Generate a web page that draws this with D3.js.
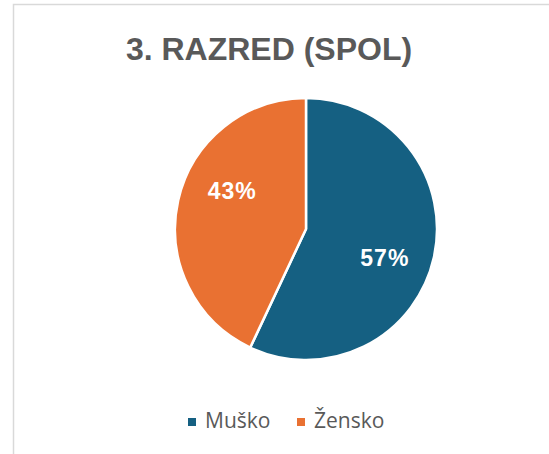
<!DOCTYPE html>
<html>
<head>
<meta charset="utf-8">
<title>3. RAZRED (SPOL)</title>
<script src="https://d3js.org/d3.v7.min.js"></script>
<style>
  body { margin: 0; background: #fff; }
  svg { display: block; }
</style>
</head>
<body>
<div id="chart"></div>
<script>
// chart data
const categories = ["Muško", "Žensko"];
const values = [57, 43];
const colors = ["#156082", "#E97132"];
const title = "3. RAZRED (SPOL)";

const width = 549, height = 454;
const cx = 306, cy = 229, radius = 131;

const svg = d3.select("#chart")
    .append("svg")
    .attr("width", width)
    .attr("height", height);

// chart area border (right/bottom edges fall outside the view)
svg.append("rect")
    .attr("x", 13.5).attr("y", 4.5)
    .attr("width", 600).attr("height", 500)
    .attr("fill", "#fff")
    .attr("stroke", "#d9d9d9")
    .attr("stroke-width", 1.5);

svg.append("text")
    .attr("x", 269).attr("y", 60)
    .attr("text-anchor", "middle")
    .style("font-family", "'Liberation Sans', Arial, sans-serif")
    .style("font-weight", "bold")
    .style("font-size", "32px")
    .style("fill", "#595959")
    .text(title);

const pie = d3.pie().sort(null).value(d => d);
const arcs = pie(values);
const arc = d3.arc().innerRadius(0).outerRadius(radius);
const labelArc = d3.arc().innerRadius(radius * 0.64).outerRadius(radius * 0.64);

const g = svg.append("g").attr("transform", `translate(${cx},${cy})`);

g.selectAll("path")
    .data(arcs)
    .join("path")
    .attr("d", arc)
    .attr("fill", (d, i) => colors[i])
    .attr("stroke", "#fff")
    .attr("stroke-width", 2.5)
    .attr("stroke-linejoin", "round");

// excel "best fit" nudges the labels off the centroid a bit
const labelShift = [[-3, 10], [8, -20]];

g.selectAll("text.lbl")
    .data(arcs)
    .join("text")
    .attr("class", "lbl")
    .attr("transform", (d, i) => {
        const c = labelArc.centroid(d);
        return `translate(${c[0] + labelShift[i][0]},${c[1] + labelShift[i][1]})`;
    })
    .attr("text-anchor", "middle")
    .attr("dy", "0.36em")
    .style("font-family", "'Liberation Sans', Arial, sans-serif")
    .style("font-weight", "bold")
    .style("font-size", "23px")
    .style("letter-spacing", "1px")
    .style("fill", "#fff")
    .text(d => d.data + "%");

// legend
const legendX = [188, 297];
const legend = svg.append("g");
legend.selectAll("rect")
    .data(categories)
    .join("rect")
    .attr("x", (d, i) => legendX[i])
    .attr("y", 418)
    .attr("width", 8).attr("height", 8)
    .attr("fill", (d, i) => colors[i]);

legend.selectAll("text")
    .data(categories)
    .join("text")
    .attr("x", (d, i) => legendX[i] + 17)
    .attr("y", 428)
    .style("font-family", "'Open Sans', sans-serif")
    .style("font-size", "21px")
    .style("fill", "#595959")
    .text(d => d);
</script>
</body>
</html>
